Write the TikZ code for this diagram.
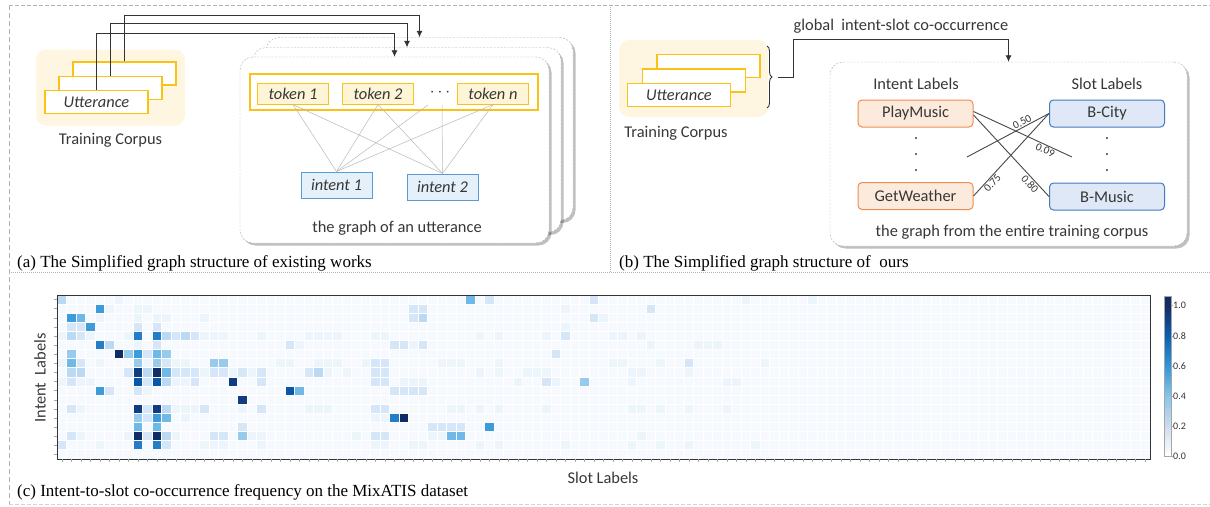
\documentclass[tikz,border=0pt]{standalone}
\usepackage{fontspec}
\setmainfont{Liberation Serif}
\newfontfamily\calibfont{Carlito}
\usepackage{xcolor}
\usetikzlibrary{arrows.meta, positioning, shadows, decorations.pathreplacing, math}

\definecolor{corpusgold}{RGB}{250,194,20}
\definecolor{corpuscream}{RGB}{254,246,224}
\definecolor{tokcream}{RGB}{253,245,214}
\definecolor{intfill}{RGB}{229,241,250}
\definecolor{intline}{RGB}{91,155,213}
\definecolor{playfill}{RGB}{252,234,220}
\definecolor{playline}{RGB}{240,140,80}
\definecolor{slotfill}{RGB}{222,232,246}
\definecolor{slotline}{RGB}{72,122,192}
\definecolor{txtgray}{RGB}{55,55,55}
% heat map levels
\definecolor{hm0}{RGB}{246,250,254}
\definecolor{hm1}{RGB}{236,244,252}
\definecolor{hm2}{RGB}{212,230,247}
\definecolor{hm3}{RGB}{186,217,242}
\definecolor{hm4}{RGB}{150,203,238}
\definecolor{hm5}{RGB}{110,185,232}
\definecolor{hm6}{RGB}{62,155,218}
\definecolor{hm7}{RGB}{35,125,200}
\definecolor{hm8}{RGB}{8,88,170}
\definecolor{hm9}{RGB}{16,60,130}
\definecolor{hm10}{RGB}{16,44,100}
% colour bar stops
\definecolor{cb0}{RGB}{255,255,255}
\definecolor{cb2}{RGB}{205,220,236}
\definecolor{cb4}{RGB}{135,197,236}
\definecolor{cb6}{RGB}{48,150,215}
\definecolor{cb8}{RGB}{12,95,175}
\definecolor{cb10}{RGB}{18,44,100}

\tikzset{
  lbl/.style={font=\calibfont\fontsize{16.4}{19}\selectfont, text=txtgray, inner sep=0pt},
  capt/.style={font=\fontsize{17}{20}\selectfont, inner sep=0pt, anchor=west},
  corpusbg/.style={fill=corpuscream, rounded corners=10pt, minimum width=149pt, minimum height=76pt},
  uttbox/.style={draw=corpusgold, line width=1.4pt, fill=white, minimum width=103pt, minimum height=23pt,
    inner sep=0pt, font=\calibfont\itshape\fontsize{16.4}{19}\selectfont, text=txtgray},
  gcard/.style={draw=gray!65, dash pattern=on 2pt off 1.5pt, fill=white, rounded corners=13pt,
    drop shadow={shadow xshift=2.5pt, shadow yshift=-2.5pt, opacity=0.25, fill=black}},
  tokbox/.style={draw=corpusgold, line width=1pt, fill=tokcream, minimum width=71pt, minimum height=21pt,
    inner sep=0pt, font=\calibfont\itshape\fontsize{16.4}{19}\selectfont, text=txtgray},
  intbox/.style={draw=intline, line width=1pt, fill=intfill, minimum width=71pt, minimum height=26pt,
    inner sep=0pt, font=\calibfont\itshape\fontsize{16.4}{19}\selectfont, text=txtgray},
  intentlab/.style={draw=playline, line width=1pt, fill=playfill, rounded corners=4pt, minimum width=115pt,
    minimum height=27pt, inner sep=0pt, font=\calibfont\fontsize{16.4}{19}\selectfont, text=txtgray},
  slotlab/.style={intentlab, draw=slotline, fill=slotfill},
  flowarrow/.style={draw=black!80, line width=0.8pt, -{Latex[length=6.5pt,width=6pt]}},
  tokedge/.style={draw=gray!55, line width=0.5pt},
  cooedge/.style={draw=black!72, line width=0.9pt},
  wlbl/.style={font=\calibfont\fontsize{11}{12}\selectfont, text=txtgray, inner sep=1pt},
  cbarlbl/.style={font=\calibfont\fontsize{10}{12}\selectfont, text=black!80, inner sep=0pt},
}

\begin{document}
\begin{tikzpicture}[x=1pt, y=-1pt]
\tikzmath{
\cellw=9.5;
\cellh=9.111;
}
\useasboundingbox (0,0) rectangle (1210,506);

% panel borders
\draw[gray!60, dash pattern=on 3.5pt off 2.5pt] (9,5) -- (1210,5);
\draw[gray!60, dash pattern=on 5pt off 3pt] (9,5) -- (9,505);
\draw[gray!60, dash pattern=on 1pt off 1pt] (610,5) -- (610,272);
\draw[gray!60, dash pattern=on 1pt off 1pt] (9,272) -- (1210,272);
\draw[gray!35, dash pattern=on 3.5pt off 2.5pt] (9,504) -- (1210,504);

%%%% (a) existing works
\node[corpusbg] (bgA) at (110.5,87.5) {};
\node[uttbox] (uttA3) at (124.5,73.5) {};
\node[uttbox] (uttA2) at (110.5,88) {};
\node[uttbox] (uttA1) at (96.5,102) {Utterance};
\node[lbl] (corpusA) at (110.5,140) {Training Corpus};

\node[gcard, minimum width=307pt, minimum height=183pt] (cardA3) at (419.5,129) {};
\node[gcard, minimum width=308pt, minimum height=185pt] (cardA2) at (407,140) {};
\node[gcard, minimum width=309pt, minimum height=186pt] (cardA1) at (394.5,150) {};

\draw[flowarrow] (uttA3.north) -- ++(0,-46) -| (cardA3.north);
\draw[flowarrow] (uttA2.north) -- ++(0,-52) -| (cardA2.north);
\draw[flowarrow] (uttA1.north) -- ++(0,-56) -| (cardA1.north);

\node[draw=corpusgold, line width=1.2pt, fill=white, minimum width=288pt, minimum height=36pt] (tokrow) at (394,92) {};
\node[tokbox] (tok1) at (293,93.5) {token 1};
\node[tokbox] (tok2) at (378,93.5) {token 2};
\node[lbl] (tokdots) at (440,93) {$\cdots$};
\node[tokbox] (tokn) at (493,93.5) {token n};

\node[intbox] (int1) at (336.5,185) {intent 1};
\node[intbox] (int2) at (442.5,187) {intent 2};

\foreach \t in {tok1,tok2,tokn} {
  \draw[tokedge] (\t.south) -- (int1.north);
  \draw[tokedge] (\t.south) -- (int2.north);
}
\coordinate (dotsL) at (428,105);
\coordinate (dotsR) at (442,105);
\draw[tokedge] (dotsL) -- (int1.north);
\draw[tokedge] (dotsR) -- (int2.north);

\node[lbl] (graphA) at (397,228) {the graph of an utterance};
\node[capt] (captA) at (17,263) {(a) The Simplified graph structure of existing works};

%%%% (b) ours
\node[corpusbg, minimum height=77pt] (bgB) at (693.5,78.5) {};
\node[uttbox] (uttB3) at (708.5,66) {};
\node[uttbox] (uttB2) at (694,80.5) {};
\node[uttbox] (uttB1) at (679,95) {Utterance};
\node[lbl] (corpusB) at (676,133) {Training Corpus};

\draw[black!80, line width=0.9pt, decorate, decoration={brace, amplitude=5pt}] (767,46) -- (767,108);
\coordinate (braceTip) at (778,77);

\node[gcard, minimum width=357pt, minimum height=184pt] (cardB) at (1008.5,154) {};
\draw[flowarrow] (braceTip) -- ++(15,0) -- ++(0,-38) -| (cardB.north);
\node[lbl] (globalLbl) at (901,26) {global\ \ intent-slot co-occurrence};

\node[lbl] (intentHd) at (916,84) {Intent Labels};
\node[lbl] (slotHd) at (1107,84) {Slot Labels};
\node[intentlab] (play) at (915.5,113.5) {PlayMusic};
\node[intentlab] (getw) at (915.5,196) {GetWeather};
\node[slotlab] (bcity) at (1107,113.5) {B-City};
\node[slotlab] (bmusic) at (1107,196.5) {B-Music};
\foreach \yy in {138,154,170} {
  \fill[black!75] (916,\yy) circle (1.1pt);
  \fill[black!75] (1107,\yy) circle (1.1pt);
}

\coordinate (e09) at (1072,157);
\coordinate (e50) at (967,157);
\draw[cooedge] ([yshift=2pt]play.east) -- (e09) node[wlbl, pos=0.75, below, sloped] (w09) {0.09};
\draw[cooedge] ([yshift=-1.5pt]play.east) -- (bmusic.west) node[wlbl, pos=0.8, below, sloped] (w80) {0.80};
\draw[cooedge] (e50) -- (bcity.west) node[wlbl, pos=0.7, above, sloped] (w50) {0.50};
\draw[cooedge] (getw.east) -- (bcity.west) node[wlbl, pos=0.2, below, sloped] (w75) {0.75};

\node[lbl] (graphB) at (1012,232) {the graph from the entire training corpus};
\node[capt] (captB) at (619,263) {(b) The Simplified graph structure of\ \ ours};

%%%% (c) co-occurrence heat map
\fill[hm0] (57,295) rectangle (1150,459);
\foreach \c in {1,...,114}
  \draw[white, line width=0.9pt] ({57+\c*\cellw},295) -- ({57+\c*\cellw},459);
\foreach \r in {1,...,17}
  \draw[white, line width=0.9pt] (57,{295+\r*\cellh}) -- (1150,{295+\r*\cellh});

\foreach \r/\c/\v in {
  0/0/3, 0/6/1, 0/43/5, 0/45/2, 0/56/2, 0/72/1, 0/79/1,
  1/4/6, 1/5/1, 1/8/1, 1/9/1, 1/37/2, 1/38/2, 1/53/1, 1/62/2,
  2/1/6, 2/2/5, 2/4/1, 2/8/1, 2/10/1, 2/11/1, 2/15/1, 2/37/2, 2/38/3, 2/56/2, 2/57/1,
  3/1/2, 3/2/2, 3/3/6, 3/8/2, 3/10/2, 3/53/1,
  4/0/1, 4/1/3, 4/2/2, 4/3/1, 4/7/1, 4/8/7, 4/10/7, 4/11/3, 4/12/2, 4/13/3, 4/14/2, 4/15/1, 4/16/1,
  4/17/1, 4/21/1, 4/26/1, 4/27/1, 4/28/1, 4/29/1, 4/33/1, 4/34/1, 4/44/1, 4/46/1, 4/51/1, 4/53/2,
  4/58/1, 4/59/1, 4/61/1,
  5/4/7, 5/5/3, 5/8/1, 5/10/2, 5/24/2, 5/25/1, 5/35/2, 5/36/2, 5/37/1, 5/38/2, 5/62/1, 5/67/1, 5/68/1, 5/69/1,
  6/1/4, 6/6/10, 6/7/4, 6/8/6, 6/9/2, 6/10/5, 6/11/4, 6/52/2,
  7/0/1, 7/1/5, 7/2/2, 7/4/1, 7/8/4, 7/9/1, 7/10/4, 7/11/2, 7/12/1, 7/13/1, 7/16/4, 7/17/4, 7/23/1,
  7/24/1, 7/27/1, 7/28/1, 7/29/1, 7/32/1, 7/33/2, 7/34/2, 7/40/1, 7/41/1, 7/42/1, 7/46/1, 7/58/1,
  7/59/1, 7/63/1, 7/66/2, 7/74/1,
  8/1/3, 8/2/3, 8/7/2, 8/8/9, 8/9/3, 8/10/10, 8/11/5, 8/12/2, 8/13/2, 8/14/2, 8/15/1, 8/16/2, 8/17/2,
  8/18/1, 8/19/2, 8/20/1, 8/21/2, 8/26/2, 8/27/3, 8/28/1, 8/30/1, 8/33/2, 8/34/2, 8/44/1, 8/46/1,
  8/49/1, 8/50/1, 8/51/1, 8/60/1, 8/61/1, 8/66/1,
  9/0/1, 9/1/2, 9/2/1, 9/3/1, 9/8/8, 9/9/2, 9/10/8, 9/11/3, 9/12/1, 9/13/1, 9/14/2, 9/18/9, 9/21/2,
  9/33/2, 9/34/2, 9/36/1, 9/37/1, 9/38/1, 9/48/1, 9/51/2, 9/52/1, 9/55/4, 9/60/1, 9/70/1, 9/71/1,
  10/4/6, 10/5/2, 10/8/2, 10/9/1, 10/24/8, 10/25/5, 10/35/2, 10/36/2, 10/37/2, 10/38/2,
  11/19/9,
  12/1/2, 12/2/1, 12/8/9, 12/9/2, 12/10/9, 12/11/3, 12/12/1, 12/13/1, 12/14/1, 12/15/2, 12/19/1,
  12/21/2, 12/26/1, 12/27/1, 12/28/1, 12/33/2, 12/34/2, 12/41/1, 12/42/1, 12/44/1, 12/46/1, 12/51/1,
  12/60/1, 12/61/1, 12/63/1, 12/66/1, 12/70/1,
  13/8/4, 13/9/2, 13/10/6, 13/11/5, 13/13/1, 13/33/1, 13/34/1, 13/35/7, 13/36/10,
  14/8/5, 14/10/5, 14/19/2, 14/39/2, 14/40/2, 14/41/2, 14/42/2, 14/45/6,
  15/1/2, 15/2/1, 15/7/1, 15/8/10, 15/9/2, 15/10/10, 15/11/3, 15/12/1, 15/16/2, 15/17/2, 15/19/4,
  15/20/1, 15/21/1, 15/31/1, 15/33/2, 15/34/2, 15/39/1, 15/40/1, 15/41/5, 15/42/5, 15/61/1,
  16/0/2, 16/4/1, 16/8/7, 16/10/7, 16/11/2, 16/15/1, 16/16/1, 16/17/1, 16/21/1, 16/33/1, 16/34/1,
  16/37/1, 16/38/1, 16/44/1, 16/46/1, 16/53/1, 16/60/1, 16/63/1, 16/66/1, 16/73/1}
  \fill[hm\v] ({57+\c*\cellw+0.5},{295+\r*\cellh+0.5}) rectangle ++({\cellw-1},{\cellh-1});

\draw[black!80, line width=1pt] (57,295) rectangle (1150,459);
\foreach \r in {0,...,17}
  \draw[gray!70, line width=0.4pt] (57,{295+(\r+0.5)*\cellh}) -- ++(-3.5,0);
\foreach \c in {0,...,114}
  \draw[gray!70, line width=0.4pt] ({57+(\c+0.5)*\cellw},459) -- ++(0,3);

% colour bar
\foreach \ya/\yb/\ca/\cb in {426/456/cb0/cb2, 396/426/cb2/cb4, 366/396/cb4/cb6,
    336/366/cb6/cb8, 305.5/336/cb8/cb10, 296/305.5/cb10/cb10}
  \shade[top color=\cb, bottom color=\ca] (1164,\ya) rectangle (1171,\yb);
\draw[gray!70, line width=0.7pt] (1164,296) rectangle (1171,456);
\foreach \v/\yy [count=\i] in {0.0/456, 0.2/426, 0.4/396, 0.6/366, 0.8/336, 1.0/305.5} {
  \draw[gray!70] (1171,\yy) -- ++(2,0);
  \node[cbarlbl, anchor=west] (cbl\i) at (1173,\yy) {\v};
}

\node[lbl, rotate=90] (intentAx) at (40,378) {Intent\ \ Labels};
\node[lbl] (slotAx) at (603,478) {Slot Labels};
\node[capt] (captC) at (17,492) {(c) Intent-to-slot co-occurrence frequency on the MixATIS dataset};

\end{tikzpicture}
\end{document}
